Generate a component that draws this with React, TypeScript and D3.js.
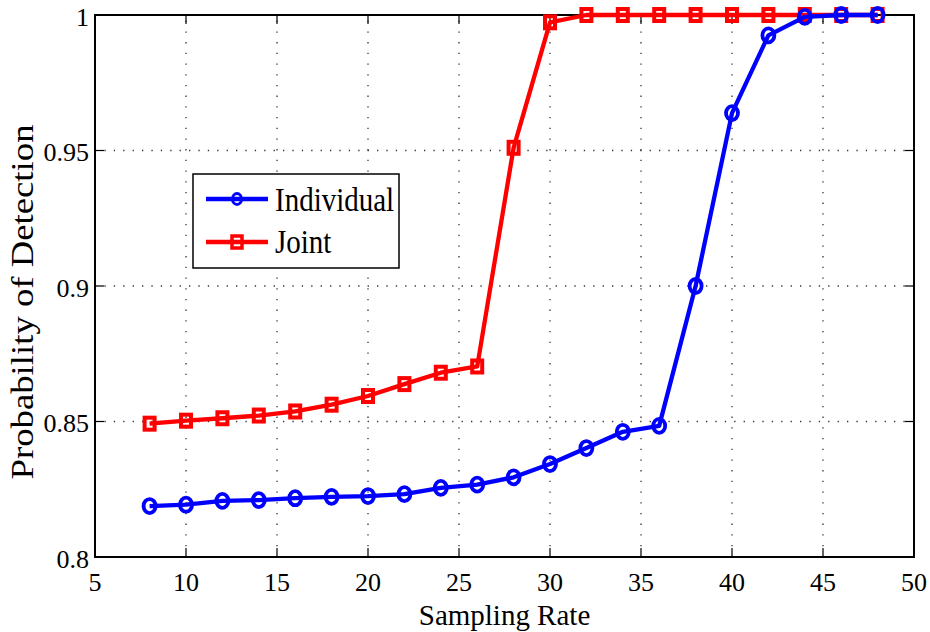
import React from "react";
import * as d3 from "d3";

// Sampling rates on the x axis
const samplingRates = [8, 10, 12, 14, 16, 18, 20, 22, 24, 26, 28, 30, 32, 34, 36, 38, 40, 42, 44, 46, 48];

// Probability of detection per method
const individualPd = [
  0.8188, 0.8193, 0.8207, 0.821, 0.8217, 0.8222, 0.8225, 0.8232, 0.8255, 0.8267, 0.8294,
  0.8343, 0.8402, 0.8462, 0.8484, 0.9, 0.9638, 0.9925, 0.9993, 1.0, 1.0,
];
const jointPd = [
  0.8492, 0.8503, 0.8512, 0.8522, 0.8537, 0.8562, 0.8594, 0.8638, 0.868, 0.8703, 0.951,
  0.9973, 1.0, 1.0, 1.0, 1.0, 1.0, 1.0, 1.0, 1.0, 1.0,
];

const xTicks = [5, 10, 15, 20, 25, 30, 35, 40, 45, 50];
const yTicks = [0.8, 0.85, 0.9, 0.95, 1];

const legendLabels = ["Individual", "Joint"];

const W = 930;
const H = 632;
const M = { left: 95, right: 16, top: 15, bottom: 75 };
const FONT = "'Liberation Serif', 'Times New Roman', serif";

export default function App() {
  const x = d3.scaleLinear().domain([5, 50]).range([M.left, W - M.right]);
  const y = d3.scaleLinear().domain([0.8, 1]).range([H - M.bottom, M.top]);

  const line = d3
    .line<[number, number]>()
    .x((d) => x(d[0]))
    .y((d) => y(d[1]));

  const indPts: [number, number][] = samplingRates.map((r, i) => [r, individualPd[i]]);
  const jntPts: [number, number][] = samplingRates.map((r, i) => [r, jointPd[i]]);

  const x0 = x(5);
  const x1 = x(50);
  const y0 = y(0.8);
  const y1 = y(1);
  const tickLen = 9;

  const legend = { x: 193, y: 174, w: 206, h: 94 };

  return (
    <svg
      width={W}
      height={H}
      style={{ position: "absolute", left: 0, top: 0, background: "#fff" }}
      fontFamily={FONT}
    >
      <rect x={0} y={0} width={W} height={H} fill="#fff" />

      {/* dotted grid */}
      <g stroke="#333" strokeWidth={1.3}>
        {xTicks.slice(1, -1).map((t) => (
          <line key={"gx" + t} x1={x(t)} x2={x(t)} y1={y0} y2={y1} strokeDasharray="1.3,9.4" />
        ))}
        {yTicks.slice(1, -1).map((t) => (
          <line key={"gy" + t} x1={x0} x2={x1} y1={y(t)} y2={y(t)} strokeDasharray="1.3,8.1" />
        ))}
      </g>

      {/* inward ticks on all four sides */}
      <g stroke="#000" strokeWidth={1.2}>
        {xTicks.map((t) => (
          <g key={"tx" + t}>
            <line x1={x(t)} x2={x(t)} y1={y0} y2={y0 - tickLen} />
            <line x1={x(t)} x2={x(t)} y1={y1} y2={y1 + tickLen} />
          </g>
        ))}
        {yTicks.map((t) => (
          <g key={"ty" + t}>
            <line x1={x0} x2={x0 + tickLen} y1={y(t)} y2={y(t)} />
            <line x1={x1} x2={x1 - tickLen} y1={y(t)} y2={y(t)} />
          </g>
        ))}
      </g>

      {/* axes box */}
      <rect x={x0} y={y1} width={x1 - x0} height={y0 - y1} fill="none" stroke="#000" strokeWidth={2} />

      {/* tick labels */}
      <g fontSize={26} fill="#000">
        {xTicks.map((t) => (
          <text key={"lx" + t} x={x(t)} y={y0 + 34} textAnchor="middle">
            {t}
          </text>
        ))}
        {yTicks.map((t) => (
          <text key={"ly" + t} x={x0 - 6} y={y(t) + 10.5} textAnchor="end">
            {t}
          </text>
        ))}
      </g>

      {/* axis titles */}
      <text
        transform={`translate(${(x0 + x1) / 2}, ${H - 7}) scale(1, 1.05)`}
        textAnchor="middle"
        fontSize={29}
        fill="#000"
      >
        Sampling Rate
      </text>
      <text
        transform={`translate(33, 302) rotate(-90)`}
        textAnchor="middle"
        fontSize={31}
        fill="#000"
        textLength={355}
        lengthAdjust="spacingAndGlyphs"
      >
        Probability of Detection
      </text>

      {/* Joint series */}
      <path d={line(jntPts) ?? ""} fill="none" stroke="#ff0000" strokeWidth={4.3} strokeLinejoin="round" />
      {jntPts.map((p, i) => (
        <rect
          key={"js" + i}
          x={x(p[0]) - 5}
          y={y(p[1]) - 6}
          width={10}
          height={12}
          fill="none"
          stroke="#ff0000"
          strokeWidth={4}
        />
      ))}

      {/* Individual series */}
      <path d={line(indPts) ?? ""} fill="none" stroke="#0000ff" strokeWidth={4.3} strokeLinejoin="round" />
      {indPts.map((p, i) => (
        <ellipse
          key={"ic" + i}
          cx={x(p[0])}
          cy={y(p[1])}
          rx={6}
          ry={7}
          fill="none"
          stroke="#0000ff"
          strokeWidth={3.8}
        />
      ))}

      {/* legend */}
      <g>
        <rect x={legend.x} y={legend.y} width={legend.w} height={legend.h} fill="#fff" stroke="#000" strokeWidth={1.5} />
        <line x1={206} x2={268} y1={199} y2={199} stroke="#0000ff" strokeWidth={4.3} />
        <ellipse cx={237} cy={199} rx={4.5} ry={5.5} fill="none" stroke="#0000ff" strokeWidth={3} />
        <line x1={206} x2={268} y1={242} y2={242} stroke="#ff0000" strokeWidth={4.3} />
        <rect x={232} y={236} width={10} height={12} fill="none" stroke="#ff0000" strokeWidth={3.5} />
        <text transform="translate(275, 210.5) scale(1, 1.17)" fontSize={29} fill="#000">
          {legendLabels[0]}
        </text>
        <text transform="translate(275, 253) scale(1, 1.17)" fontSize={29} fill="#000">
          {legendLabels[1]}
        </text>
      </g>
    </svg>
  );
}
